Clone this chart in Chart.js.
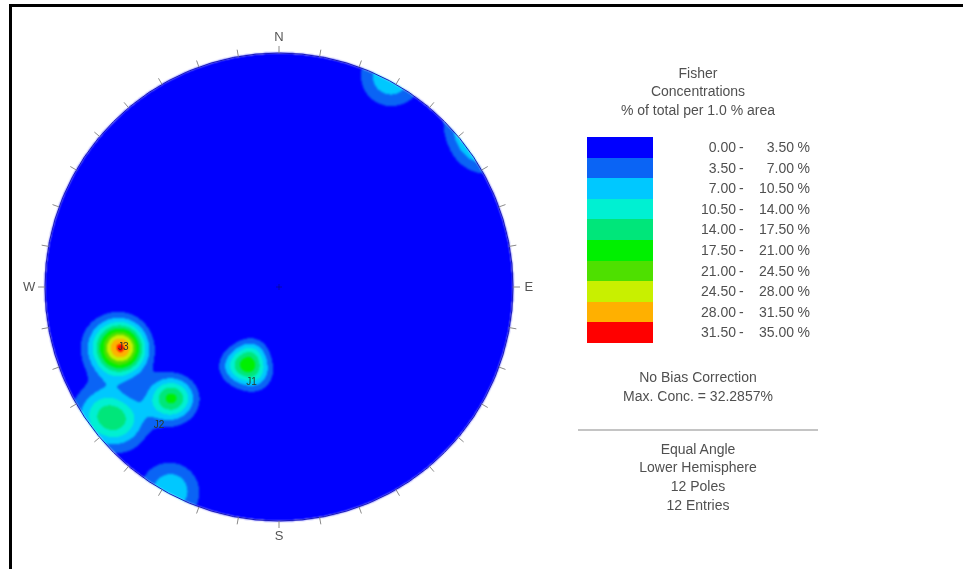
<!DOCTYPE html>
<html lang="en">
<head>
<meta charset="UTF-8">
<title>Fisher Concentrations</title>
<script src="https://cdn.jsdelivr.net/npm/chart.js"></script>
<style>
  html, body { margin: 0; padding: 0; background: #fff; }
  body {
    width: 963px; height: 569px; position: relative; overflow: hidden;
    font-family: "Liberation Sans", Arial, sans-serif; font-size: 14px; color: #505050;
  }
  canvas { position: absolute; left: 0; top: 0; }
  .frame {
    position: absolute; left: 9px; top: 4px; right: -10px; bottom: -10px;
    border-top: 3px solid #000; border-left: 3px solid #000; pointer-events: none;
  }
  .block { position: absolute; left: 548px; width: 300px; text-align: center; line-height: 18.7px; }
  .sep { position: absolute; left: 578px; top: 429px; width: 240px; height: 2px; background: #c4c4c4; }
  .swatch { position: absolute; left: 587px; width: 66px; }
  .row { position: absolute; left: 690px; width: 120px; height: 20.6px; line-height: 20.6px; white-space: pre; }
  .row span { position: absolute; top: 0; }
  .lo { right: 74px; text-align: right; }
  .dash { left: 49px; }
  .hi { right: 16px; text-align: right; }
  .pc { right: 0; }
</style>
</head>
<body>
<canvas id="net" width="963" height="569"></canvas>
<div class="frame"></div>
<div class="block" style="top:63.5px">Fisher<br>Concentrations<br>% of total per 1.0 % area</div>
<div id="legend"></div>
<div class="block" style="top:368px; line-height:19px">No Bias Correction<br>Max. Conc. = 32.2857%</div>
<div class="sep"></div>
<div class="block" id="info" style="top:439.5px"></div>

<script>
// poles (trend / plunge, degrees), lower hemisphere
const poleTrend  = [246.5, 251.5, 246.5, 251.5, 196, 208, 202, 222.5, 225.5, 229.5, 234.5, 208];
const polePlunge = [15.7, 15.7, 20.3, 20.3, 48.2, 48.2, 55.2, 24.5, 21.5, 7, 4, 0.8];

// set labels
const setNames  = ['J1', 'J2', 'J3'];
const setTrend  = [196, 221, 249];
const setPlunge = [44, 14, 19];

// contour bands
const bandLow    = [0.00, 3.50, 7.00, 10.50, 14.00, 17.50, 21.00, 24.50, 28.00, 31.50];
const bandHigh   = [3.50, 7.00, 10.50, 14.00, 17.50, 21.00, 24.50, 28.00, 31.50, 35.00];
const bandColors = ['#0000ff', '#0a64f5', '#00c8ff', '#00f0d2', '#00e67a',
                    '#00f000', '#4ee000', '#c8f000', '#ffb000', '#ff0000'];

const compassNames = ['N', 'E', 'S', 'W'];
const compassAz    = [0, 90, 180, 270];

const KAPPA = 130;
const PEAK_PER_POLE = 10;
const rad = Math.PI / 180;

// legend
const legend = document.getElementById('legend');
bandColors.forEach((c, i) => {
    const top = 137 + i * 20.6;
    const sw = document.createElement('div');
    sw.className = 'swatch';
    sw.style.top = top + 'px';
    sw.style.height = '20.8px';
    sw.style.background = c;
    legend.appendChild(sw);
    const row = document.createElement('div');
    row.className = 'row';
    row.style.top = top + 'px';
    row.innerHTML = '<span class="lo">' + bandLow[i].toFixed(2) + '</span>' +
        '<span class="dash">-</span>' +
        '<span class="hi">' + bandHigh[i].toFixed(2) + '</span>' +
        '<span class="pc">%</span>';
    legend.appendChild(row);
});
document.getElementById('info').innerHTML =
    'Equal Angle<br>Lower Hemisphere<br>' + poleTrend.length + ' Poles<br>' + poleTrend.length + ' Entries';

function project(trend, plunge) {
    const r = Math.tan((90 - plunge) / 2 * rad);
    return { x: r * Math.sin(trend * rad), y: r * Math.cos(trend * rad) };
}

const poleVec = poleTrend.map((t, i) => {
    const p = polePlunge[i] * rad;
    return [Math.cos(p) * Math.sin(t * rad), Math.cos(p) * Math.cos(t * rad), Math.sin(p)];
});

// Fisher counting on axes (|cos|), so contours wrap across the primitive
function densityAt(x, y) {
    const r = Math.sqrt(x * x + y * y);
    const phi = 2 * Math.atan(r);
    const s = Math.sin(phi);
    const e = r > 0 ? s * x / r : 0;
    const n = r > 0 ? s * y / r : 0;
    const d = Math.cos(phi);
    let sum = 0;
    for (const v of poleVec) {
        const c = Math.abs(e * v[0] + n * v[1] + d * v[2]);
        sum += Math.exp(KAPPA * (c - 1));
    }
    return PEAK_PER_POLE * sum;
}

function hexRgb(h) {
    return [parseInt(h.substr(1, 2), 16), parseInt(h.substr(3, 2), 16), parseInt(h.substr(5, 2), 16)];
}
const bandRgb = bandColors.map(hexRgb);

const stereonet = {
    id: 'stereonet',
    beforeDatasetsDraw(chart) {
        const ctx = chart.ctx;
        const xs = chart.scales.x, ys = chart.scales.y;
        const x0 = Math.floor(xs.getPixelForValue(-1)), x1 = Math.ceil(xs.getPixelForValue(1));
        const y0 = Math.floor(ys.getPixelForValue(1)), y1 = Math.ceil(ys.getPixelForValue(-1));
        const w = x1 - x0, h = y1 - y0;
        const off = document.createElement('canvas');
        off.width = w; off.height = h;
        const octx = off.getContext('2d');
        const img = octx.createImageData(w, h);
        for (let py = 0; py < h; py++) {
            const y = ys.getValueForPixel(y0 + py + 0.5);
            for (let px = 0; px < w; px++) {
                const x = xs.getValueForPixel(x0 + px + 0.5);
                if (x * x + y * y > 1) continue;
                const dens = densityAt(x, y);
                let b = 0;
                while (b < bandHigh.length - 1 && dens >= bandHigh[b]) b++;
                const c = bandRgb[b];
                const k = (py * w + px) * 4;
                img.data[k] = c[0]; img.data[k + 1] = c[1]; img.data[k + 2] = c[2]; img.data[k + 3] = 255;
            }
        }
        octx.putImageData(img, 0, 0);
        ctx.save();
        ctx.filter = 'blur(0.8px)';
        ctx.drawImage(off, x0, y0);
        ctx.restore();
    },
    afterDatasetsDraw(chart) {
        const ctx = chart.ctx;
        const xs = chart.scales.x, ys = chart.scales.y;
        const cx = xs.getPixelForValue(0), cy = ys.getPixelForValue(0);
        const R = xs.getPixelForValue(1) - cx;
        ctx.save();
        // outline
        ctx.strokeStyle = '#1a1ab8';
        ctx.lineWidth = 1;
        ctx.beginPath();
        ctx.arc(cx, cy, R, 0, Math.PI * 2);
        ctx.stroke();
        // ticks every 10 degrees
        ctx.strokeStyle = '#8a8a8a';
        for (let a = 0; a < 360; a += 10) {
            const sx = Math.sin(a * rad), sy = Math.cos(a * rad);
            ctx.beginPath();
            ctx.moveTo(xs.getPixelForValue(sx), ys.getPixelForValue(sy));
            ctx.lineTo(xs.getPixelForValue(sx * 1.03), ys.getPixelForValue(sy * 1.03));
            ctx.stroke();
        }
        // compass letters
        ctx.fillStyle = '#555';
        ctx.font = '13px "Liberation Sans", Arial, sans-serif';
        ctx.textAlign = 'center';
        ctx.textBaseline = 'middle';
        compassNames.forEach((n, i) => {
            const a = compassAz[i] * rad;
            ctx.fillText(n, xs.getPixelForValue(Math.sin(a) * 1.068), ys.getPixelForValue(Math.cos(a) * 1.068));
        });
        // centre mark
        ctx.strokeStyle = 'rgba(10,10,120,0.6)';
        ctx.beginPath();
        ctx.moveTo(cx - 3, cy); ctx.lineTo(cx + 3, cy);
        ctx.moveTo(cx, cy - 3); ctx.lineTo(cx, cy + 3);
        ctx.stroke();
        // set labels
        ctx.fillStyle = '#2a3a2a';
        ctx.font = '10px "Liberation Sans", Arial, sans-serif';
        chart.getDatasetMeta(0).data.forEach((pt, i) => {
            ctx.fillText(setNames[i], pt.x, pt.y);
        });
        ctx.restore();
    }
};

new Chart(document.getElementById('net'), {
    type: 'scatter',
    data: {
        datasets: [{
            label: 'Sets',
            data: setTrend.map((t, i) => project(t, setPlunge[i])),
            pointRadius: 0
        }]
    },
    options: {
        responsive: false,
        animation: false,
        layout: { padding: { left: 45, top: 53, right: 450, bottom: 48 } },
        scales: {
            x: { type: 'linear', min: -1, max: 1, display: false },
            y: { type: 'linear', min: -1, max: 1, display: false }
        },
        plugins: { legend: { display: false }, tooltip: { enabled: false } }
    },
    plugins: [stereonet]
});
</script>
</body>
</html>
